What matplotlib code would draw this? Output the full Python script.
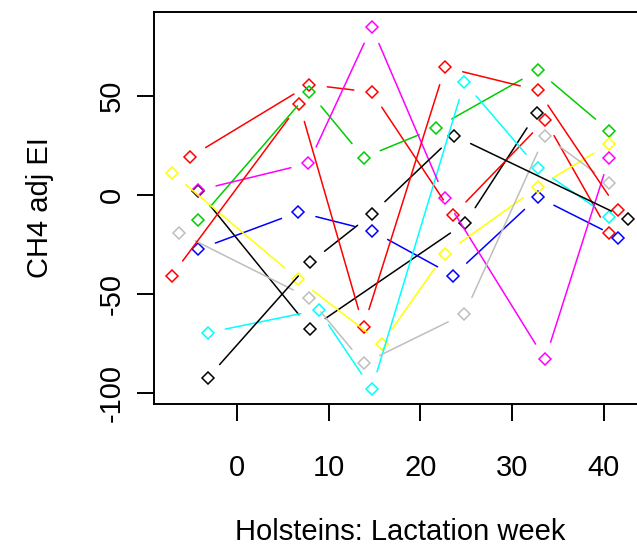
import matplotlib
matplotlib.use("Agg")
import matplotlib.pyplot as plt

plt.rcParams['font.family'] = ['Liberation Sans', 'DejaVu Sans']

# one list of weeks and one of values per cow, colours in R palette order
cow_colors = ['black', 'red', '#00CD00', 'blue', 'cyan', 'magenta', 'yellow', '#BEBEBE', 'black', 'red']

weeks = [
    [-4.2, 8.0, 24.9, 32.7],
    [-5.1, 7.9, 14.7, 23.6, 33.6, 40.6],
    [-4.2, 7.9, 13.8, 21.7, 32.8, 40.6],
    [-4.2, 6.7, 14.7, 23.6, 32.8, 41.6],
    [-3.2, 8.9, 14.7, 24.8, 32.8, 40.6],
    [-4.2, 7.8, 14.7, 22.7, 33.6, 40.6],
    [-7.1, 6.7, 15.8, 22.7, 32.8, 40.6],
    [-6.3, 7.9, 13.8, 24.8, 33.6, 40.6],
    [-3.2, 8.0, 14.7, 23.7, 42.6],
    [-7.1, 6.8, 13.8, 22.7, 32.8, 41.6],
]
ch4 = [
    [2.0, -67.5, -14.0, 41.6],
    [19.3, 55.8, 52.0, -10.0, 38.0, -19.0],
    [-12.7, 52.0, 19.0, 34.0, 63.0, 32.5],
    [-27.4, -8.6, -18.0, -40.6, -1.0, -21.5],
    [-69.5, -58.0, -98.0, 57.0, 13.7, -11.0],
    [2.5, 16.0, 85.0, -1.5, -83.0, 19.0],
    [11.2, -42.6, -75.0, -29.5, 4.0, 26.0],
    [-19.0, -52.0, -85.0, -60.0, 30.0, 6.0],
    [-92.4, -34.0, -9.6, 30.0, -12.0],
    [-40.6, 46.0, -66.5, 64.5, 53.0, -7.6],
]

x_ticks = [0, 10, 20, 30, 40]
y_ticks = [-100, -50, 0, 50]

fig = plt.figure(figsize=(6.37, 5.49), dpi=100)
ax = fig.add_axes([153.5 / 637, 145 / 549, (646 - 153.5) / 637, 392 / 549])
ax.set_xlim(-9.1, 44.6)
ax.set_ylim(-105.5, 92.5)

# type="b": open diamonds, line segments with a gap near each point
gap = 13
for wk, val, col in zip(weeks, ch4, cow_colors):
    ax.plot(wk, val, linestyle='none', marker='D', ms=6.5, mfc='none',
            mec=col, mew=1.1)
    for i in range(len(wk) - 1):
        ax.annotate('', xy=(wk[i + 1], val[i + 1]), xytext=(wk[i], val[i]),
                    arrowprops=dict(arrowstyle='-', color=col, lw=1.1,
                                    shrinkA=gap, shrinkB=gap))

for s in ax.spines.values():
    s.set_linewidth(1.4)

ax.set_xticks(x_ticks)
ax.set_yticks(y_ticks)
ax.set_yticklabels([str(v) for v in y_ticks], rotation=90, va='center')
ax.tick_params(length=12, width=1.4, labelsize=21)
ax.tick_params(axis='x', pad=24)
ax.tick_params(axis='y', pad=8)

fig.text(400 / 637, 1 - 532 / 549, 'Holsteins: Lactation week', fontsize=21,
         ha='center', va='center')
fig.text(40 / 637, 1 - 208 / 549, 'CH4 adj EI', fontsize=21, rotation=90,
         ha='center', va='center')

fig.savefig('out.png', dpi=100)
